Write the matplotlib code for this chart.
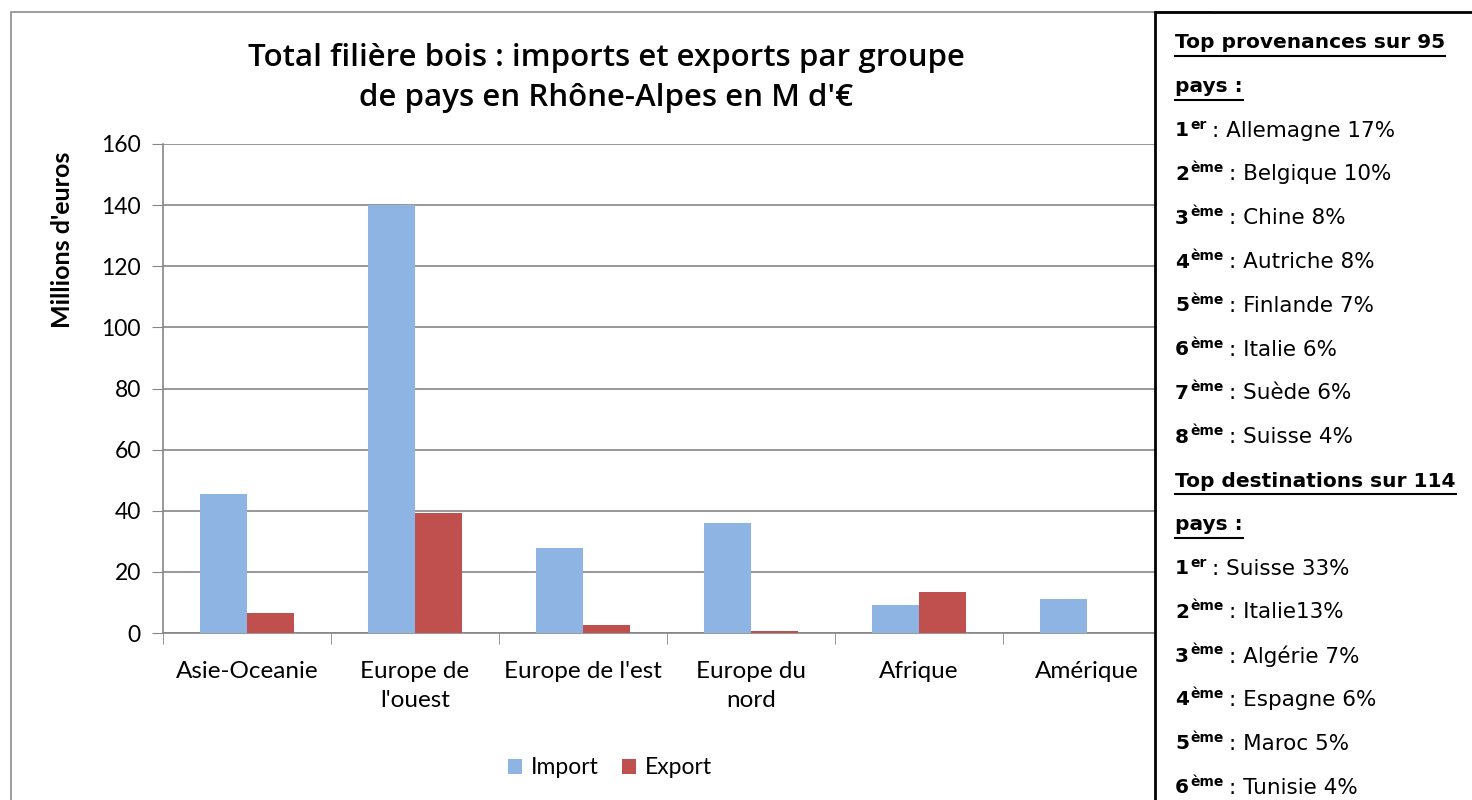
import matplotlib.pyplot as plt
from matplotlib.patches import Rectangle
from matplotlib.lines import Line2D
import numpy as np

categories = ['Asie-Oceanie', "Europe de\nl'ouest", "Europe de l'est",
              'Europe du\nnord', 'Afrique', 'Amérique']
imports = [45.5, 140, 27.8, 36, 9.2, 11.1]
exports = [6.5, 39.3, 2.6, 0.7, 13.4, 0]
yticks = [0, 20, 40, 60, 80, 100, 120, 140, 160]

title = "Total filière bois : imports et exports par groupe\nde pays en Rhône-Alpes en M d'€"

# right-hand text box: (kind, rank, suffix, rest)
box_lines = [
    ('head', 'Top provenances sur 95', '', ''),
    ('head', 'pays :', '', ''),
    ('item', '1', 'er', ': Allemagne 17%'),
    ('item', '2', 'ème', ': Belgique 10%'),
    ('item', '3', 'ème', ': Chine 8%'),
    ('item', '4', 'ème', ': Autriche 8%'),
    ('item', '5', 'ème', ': Finlande 7%'),
    ('item', '6', 'ème', ': Italie 6%'),
    ('item', '7', 'ème', ': Suède 6%'),
    ('item', '8', 'ème', ': Suisse 4%'),
    ('head', 'Top destinations sur 114', '', ''),
    ('head', 'pays :', '', ''),
    ('item', '1', 'er', ': Suisse 33%'),
    ('item', '2', 'ème', ': Italie13%'),
    ('item', '3', 'ème', ': Algérie 7%'),
    ('item', '4', 'ème', ': Espagne 6%'),
    ('item', '5', 'ème', ': Maroc 5%'),
    ('item', '6', 'ème', ': Tunisie 4%'),
]

W, H = 1472, 800
plt.rcParams['font.family'] = ['Lato', 'DejaVu Sans']
fig = plt.figure(figsize=(W / 100, H / 100), dpi=100)


def fx(x):
    return x / W


def fy(y):
    return 1 - y / H


# chart frame
fig.patches.append(Rectangle((fx(11), fy(812)), fx(1200), fy(12) - fy(812),
                             transform=fig.transFigure, fill=False,
                             edgecolor='#8c8c8c', lw=1.2, zorder=0))

ax = fig.add_axes([fx(163), fy(633), fx(1171) - fx(163), fy(144) - fy(633)])
x = np.arange(len(categories))
w = 0.28
ax.bar(x - w / 2, imports, w, color='#8EB4E3', label='Import', zorder=3)
ax.bar(x + w / 2, exports, w, color='#C0504D', label='Export', zorder=3)

ax.set_xlim(-0.5, len(categories) - 0.5)
ax.set_ylim(0, 160)
ax.set_yticks(yticks)
ax.tick_params(axis='y', labelsize=16.5, length=8, color='#868686', pad=8)
ax.yaxis.grid(True, color='#868686', lw=1.2, zorder=0)
ax.set_xticks(x)
ax.set_xticklabels(categories, fontsize=17.5, linespacing=1.5)
ax.tick_params(axis='x', length=0, pad=20)
ax.set_xticks(np.arange(len(categories) + 1) - 0.5, minor=True)
ax.tick_params(axis='x', which='minor', length=8, color='#868686')
for s in ['top', 'right']:
    ax.spines[s].set_visible(False)
for s in ['left', 'bottom']:
    ax.spines[s].set_color('#868686')
    ax.spines[s].set_linewidth(1.2)
ax.set_axisbelow(True)

fig.text(fx(606), fy(78), title, ha='center', va='center', fontsize=22.5,
         fontweight='semibold', family=['Open Sans', 'DejaVu Sans'],
         linespacing=1.45)
fig.text(fx(62), fy(240), "Millions d'euros", rotation=90, ha='center',
         va='center', fontsize=18, fontweight='bold')

ax.legend(loc='center', bbox_to_anchor=(fx(610), fy(768)),
          bbox_transform=fig.transFigure, ncol=2, frameon=False, fontsize=16.5,
          handlelength=0.6, handleheight=0.6, handletextpad=0.4,
          columnspacing=1.0)

# text box
fig.patches.append(Rectangle((fx(1155), fy(830)), fx(330), fy(12) - fy(830),
                             transform=fig.transFigure, facecolor='white',
                             edgecolor='black', lw=2, zorder=5))

fig.canvas.draw()
rend = fig.canvas.get_renderer()
bfont = ['DejaVu Sans']
x0 = 1175
y = 43
for kind, a, b, c in box_lines:
    if kind == 'head':
        t = fig.text(fx(x0), fy(y), a, ha='left', va='center', fontsize=14.5,
                     fontweight='bold', family=bfont, zorder=6)
        bb = t.get_window_extent(rend)
        fig.lines.append(Line2D([fx(bb.x0), fx(bb.x1)],
                                [fy(y + 13), fy(y + 13)],
                                transform=fig.transFigure, color='black',
                                lw=1.5, zorder=6))
    else:
        t1 = fig.text(fx(x0), fy(y), a, ha='left', va='center', fontsize=14.5,
                      fontweight='bold', family=bfont, zorder=6)
        bb = t1.get_window_extent(rend)
        t2 = fig.text(bb.x1 / W + fx(1), fy(y - 6), b, ha='left',
                      va='center', fontsize=10, fontweight='bold',
                      family=bfont, zorder=6)
        bb2 = t2.get_window_extent(rend)
        fig.text(bb2.x1 / W + fx(6), fy(y), c, ha='left', va='center',
                 fontsize=15.5, family=bfont, zorder=6)
    y += 43.8

fig.savefig('out.png', dpi=100)
